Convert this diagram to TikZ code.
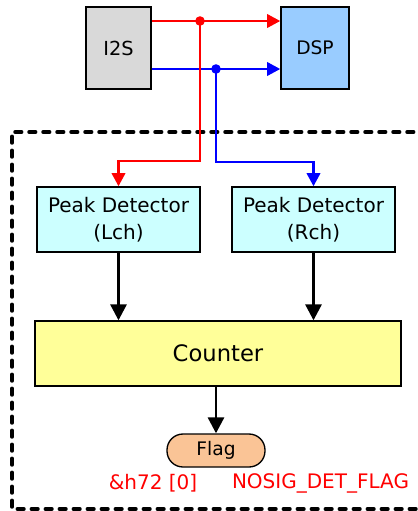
\documentclass[tikz,border=0pt]{standalone}
\usepackage{fontspec}
\setmainfont{DejaVu Sans}
\usetikzlibrary{arrows.meta,positioning,calc}
\definecolor{i2sgray}{RGB}{217,217,217}
\definecolor{dspblue}{RGB}{153,204,255}
\definecolor{peakcyan}{RGB}{204,255,255}
\definecolor{cntyellow}{RGB}{255,255,153}
\definecolor{flagorange}{RGB}{250,196,150}

\begin{document}
\begin{tikzpicture}[
    x=0.75pt, y=-0.75pt,
    blk/.style={draw, line width=1pt, inner sep=0pt, align=center},
    sig/.style={line width=2.2pt, -{Triangle[length=10pt,width=10pt]}},
    flow/.style={line width=2.2pt, -{Triangle[length=12pt,width=12pt]}},
    regname/.style={text=red, font=\fontsize{15}{17}\selectfont}
]
\useasboundingbox (0,0) rectangle (418,511);

% dashed boundary of the block
\draw[line width=2.6pt, line cap=round, dash pattern=on 5pt off 5.5pt] (430,509) -| (12,132) -- (430,132);

\node[blk, fill=i2sgray, minimum width=48.75pt, minimum height=61.5pt, font=\fontsize{14.5}{16}\selectfont] (i2s) at (118.5,48) {I2S};
\node[blk, fill=dspblue, minimum width=51pt, minimum height=61.5pt, font=\fontsize{14}{16}\selectfont] (dsp) at (315,48) {DSP};

\node[blk, fill=peakcyan, minimum width=122.25pt, minimum height=48.75pt, font=\fontsize{15}{20}\selectfont] (pdl) at (118.5,219.5) {Peak Detector\\(Lch)};
\node[blk, fill=peakcyan, minimum width=122.25pt, minimum height=48.75pt, font=\fontsize{15}{20}\selectfont] (pdr) at (313.5,219.5) {Peak Detector\\(Rch)};

\node[blk, fill=cntyellow, minimum width=274.5pt, minimum height=48.75pt, font=\fontsize{17}{20}\selectfont] (cnt) at (218,353.5) {Counter};

\node[blk, fill=flagorange, rounded corners=12pt, minimum width=73.5pt, minimum height=24.75pt, font=\fontsize{14}{16}\selectfont] (flag) at (216,450.5) {Flag};

\node[regname] (addr) at (153,483) {\&h72 [0]};
\node[regname] (fname) at (320.5,483) {NOSIG\_DET\_FLAG};

% branch points
\coordinate (rdot) at (200,21);
\coordinate (bdot) at (216,69);

% Rch path
\draw[sig, blue] (i2s.east |- bdot) -- (dsp.west |- bdot);
\draw[sig, blue] (bdot) -- ++(0,93) -| (pdr.north);
\fill[blue] (bdot) circle (3.6pt);

% Lch path
\draw[sig, red] (i2s.east |- rdot) -- (dsp.west |- rdot);
\draw[sig, red] (rdot) -- ++(0,140) -| (pdl.north);
\fill[red] (rdot) circle (3.6pt);

\draw[flow] (pdl.south) -- (pdl.south |- cnt.north);
\draw[flow] (pdr.south) -- (pdr.south |- cnt.north);
\draw[flow] (cnt.south -| flag.north) -- (flag.north);

\end{tikzpicture}
\end{document}
